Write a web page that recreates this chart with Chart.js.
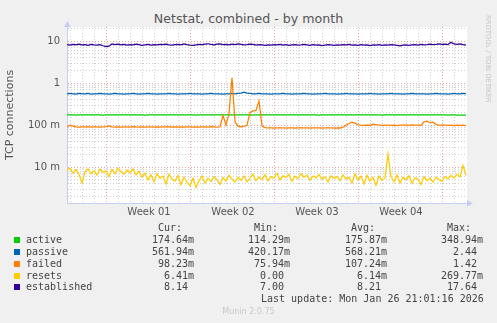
<!DOCTYPE html>
<html>
<head>
<meta charset="utf-8">
<script src="https://cdn.jsdelivr.net/npm/chart.js@4/dist/chart.umd.min.js"></script>
<style>
  html, body { margin:0; padding:0; }
  body { width:497px; height:323px; overflow:hidden; position:relative; background:#f0f0f0; font-family:'DejaVu Sans', sans-serif; }
  .abs { position:absolute; white-space:pre; }
  .mono { font-family:'DejaVu Sans Mono', monospace; font-size:10px; line-height:12px; color:#444; }
</style>
</head>
<body>
<div class="abs" style="left:0;top:11px;width:497px;text-align:center;font-size:12.6px;line-height:16px;color:#555;">Netstat, combined - by month</div>
<canvas id="c" width="497" height="225" style="position:absolute;left:0;top:0;"></canvas>
<div class="abs" style="left:484px;top:15px;writing-mode:vertical-rl;font-size:6.8px;line-height:8px;color:#c4c4c4;">RRDTOOL / TOBI OETIKER</div>
<div id="legend"></div>
<div class="abs" style="left:0;top:307px;width:497px;text-align:center;font-size:8px;line-height:10px;color:#c8c8c8;">Munin 2.0.75</div>
<script>
// ---------- data (one sample every 6 hours over the month) ----------
const STEP_DAYS = 0.25;
const weekLabels = ['Week 01', 'Week 02', 'Week 03', 'Week 04'];
const weekCenters = [6.833, 13.833, 20.833, 27.833];
const weekLines = [3.333, 10.333, 17.333, 24.333, 31.333];
const dayLines = [0.333,1.333,2.333,3.333,4.333,5.333,6.333,7.333,8.333,9.333,10.333,11.333,12.333,13.333,14.333,15.333,16.333,17.333,18.333,19.333,20.333,21.333,22.333,23.333,24.333,25.333,26.333,27.333,28.333,29.333,30.333,31.333,32.333];
const yDecadeLabels = { '10': '10', '1': '1', '0.1': '100 m', '0.01': '10 m' };

const active = [
  0.176,0.176,0.176,0.175,0.176,0.176,0.176,0.176,0.177,0.176,
  0.176,0.176,0.175,0.176,0.176,0.176,0.176,0.176,0.176,0.176,
  0.176,0.177,0.176,0.176,0.176,0.176,0.175,0.176,0.176,0.176,
  0.176,0.176,0.176,0.176,0.176,0.177,0.176,0.176,0.176,0.176,
  0.176,0.176,0.176,0.175,0.176,0.176,0.176,0.176,0.176,0.176,
  0.176,0.176,0.176,0.176,0.177,0.176,0.176,0.176,0.176,0.176,
  0.176,0.175,0.176,0.176,0.176,0.176,0.176,0.176,0.176,0.176,
  0.176,0.176,0.176,0.176,0.176,0.176,0.177,0.176,0.176,0.176,
  0.176,0.176,0.176,0.176,0.175,0.176,0.176,0.176,0.176,0.176,
  0.176,0.176,0.176,0.176,0.176,0.176,0.176,0.176,0.176,0.177,
  0.176,0.176,0.176,0.176,0.176,0.175,0.176,0.176,0.176,0.176,
  0.176,0.176,0.176,0.176,0.176,0.176,0.176,0.176,0.176,0.176,
  0.176,0.177,0.176,0.176,0.176,0.176,0.176,0.175,0.176,0.176,
  0.175,0.175,0.175,0.175
];
const passive = [
  0.56,0.57,0.56,0.55,0.57,0.56,0.56,0.57,0.55,0.56,
  0.56,0.57,0.56,0.56,0.55,0.56,0.57,0.56,0.56,0.55,
  0.56,0.56,0.57,0.56,0.55,0.56,0.56,0.57,0.56,0.56,
  0.55,0.56,0.56,0.56,0.57,0.56,0.56,0.55,0.56,0.56,
  0.56,0.57,0.56,0.56,0.56,0.55,0.56,0.56,0.57,0.56,
  0.56,0.56,0.55,0.56,0.56,0.57,0.56,0.57,0.58,0.61,
  0.58,0.57,0.56,0.56,0.57,0.56,0.56,0.56,0.55,0.56,
  0.56,0.56,0.57,0.56,0.56,0.55,0.56,0.56,0.56,0.57,
  0.56,0.56,0.55,0.56,0.56,0.56,0.57,0.56,0.56,0.56,
  0.55,0.56,0.56,0.57,0.56,0.56,0.56,0.55,0.56,0.56,
  0.56,0.57,0.56,0.56,0.55,0.56,0.56,0.56,0.57,0.56,
  0.56,0.56,0.55,0.56,0.56,0.57,0.56,0.56,0.56,0.56,
  0.55,0.56,0.56,0.57,0.56,0.56,0.56,0.55,0.56,0.57,
  0.56,0.56,0.57,0.56
];
const failed = [
  0.092,0.100,0.095,0.091,0.090,0.092,0.091,0.093,0.090,0.091,
  0.092,0.090,0.091,0.093,0.096,0.092,0.090,0.091,0.090,0.092,
  0.091,0.090,0.093,0.091,0.090,0.092,0.090,0.091,0.092,0.090,
  0.091,0.090,0.092,0.091,0.093,0.090,0.091,0.090,0.092,0.090,
  0.091,0.092,0.090,0.091,0.090,0.092,0.091,0.090,0.093,0.091,
  0.090,0.092,0.170,0.100,0.190,1.350,0.120,0.095,0.092,0.095,
  0.100,0.200,0.220,0.225,0.380,0.095,0.088,0.086,0.087,0.085,
  0.086,0.088,0.086,0.085,0.087,0.086,0.085,0.086,0.088,0.086,
  0.087,0.085,0.086,0.087,0.086,0.085,0.086,0.088,0.086,0.085,
  0.087,0.086,0.090,0.100,0.110,0.118,0.112,0.102,0.100,0.099,
  0.101,0.100,0.106,0.103,0.100,0.099,0.100,0.101,0.099,0.100,
  0.098,0.100,0.101,0.100,0.099,0.102,0.100,0.100,0.099,0.120,
  0.125,0.115,0.118,0.105,0.100,0.101,0.100,0.099,0.100,0.098,
  0.100,0.099,0.100,0.098
];
const resets = [
  0.0085,0.0095,0.0072,0.0088,0.0068,0.0042,0.0078,0.0092,0.0070,0.0083,
  0.0065,0.0090,0.0075,0.0082,0.0060,0.0088,0.0071,0.0095,0.0078,0.0069,
  0.0086,0.0074,0.0091,0.0066,0.0080,0.0058,0.0072,0.0050,0.0066,0.0045,
  0.0070,0.0055,0.0062,0.0040,0.0068,0.0052,0.0047,0.0064,0.0038,0.0058,
  0.0044,0.0036,0.0055,0.0033,0.0048,0.0062,0.0042,0.0055,0.0046,0.0060,
  0.0050,0.0039,0.0057,0.0047,0.0065,0.0052,0.0044,0.0058,0.0049,0.0062,
  0.0045,0.0055,0.0068,0.0048,0.0058,0.0052,0.0066,0.0047,0.0060,0.0055,
  0.0072,0.0050,0.0063,0.0057,0.0068,0.0046,0.0061,0.0054,0.0070,0.0058,
  0.0065,0.0049,0.0062,0.0056,0.0067,0.0052,0.0059,0.0045,0.0063,0.0055,
  0.0060,0.0048,0.0066,0.0053,0.0058,0.0042,0.0070,0.0050,0.0061,0.0040,
  0.0064,0.0047,0.0058,0.0037,0.0062,0.0049,0.0055,0.0205,0.0060,0.0045,
  0.0066,0.0042,0.0058,0.0050,0.0063,0.0041,0.0057,0.0052,0.0039,0.0060,
  0.0048,0.0055,0.0044,0.0058,0.0051,0.0046,0.0060,0.0053,0.0064,0.0056,
  0.0068,0.0059,0.0110,0.0064
];
const established = [
  8.3,8.1,8.4,8.2,8.5,8.2,8.3,8.0,8.4,8.2,
  8.1,8.3,7.8,7.4,7.6,8.6,8.3,8.5,8.2,8.4,
  8.1,8.3,8.2,8.5,8.3,8.0,8.2,8.4,8.1,8.3,
  8.2,8.4,8.3,8.5,8.2,8.1,8.3,8.4,8.2,8.6,
  8.3,8.1,8.0,8.2,8.4,8.3,8.5,8.7,8.4,8.2,
  8.5,8.6,8.3,8.4,8.2,8.5,8.3,8.6,8.4,8.2,
  8.3,8.5,8.4,8.1,8.3,8.2,8.0,8.2,8.1,8.3,
  8.2,8.4,8.1,8.3,8.0,8.2,8.3,8.1,8.2,8.4,
  8.2,8.0,8.3,8.1,8.2,7.9,8.1,8.3,8.2,8.0,
  8.2,8.1,8.3,8.2,8.4,8.1,8.2,8.0,8.3,8.1,
  8.2,7.9,8.2,8.1,8.3,8.0,8.2,8.1,8.3,8.2,
  8.0,7.8,8.1,8.2,8.0,8.2,8.3,8.1,8.4,8.2,
  8.3,8.5,8.3,8.4,8.6,8.4,8.5,8.3,9.4,8.6,
  8.4,8.6,8.3,8.1
];

// legend table
const legendNames = ['active', 'passive', 'failed', 'resets', 'established'];
const legendColors = ['#00cc00', '#0066b3', '#ff8000', '#ffcc00', '#330099'];
const legendCur = ['174.64m', '561.94m', ' 98.23m', '  6.41m', '  8.14 '];
const legendMin = ['114.29m', '420.17m', ' 75.94m', '  0.00 ', '  7.00 '];
const legendAvg = ['175.87m', '568.21m', '107.24m', '  6.14m', '  8.21 '];
const legendMax = ['348.94m', '  2.44 ', '  1.42 ', '269.77m', ' 17.64 '];
const legendHeaders = ['Cur:', 'Min:', 'Avg:', 'Max:'];
const lastUpdate = 'Last update: Mon Jan 26 21:01:16 2026';

// ---------- chart ----------
const toPoints = arr => arr.map((v, i) => ({ x: i * STEP_DAYS, y: v }));
const near = (v, list) => list.some(t => Math.abs(t - v) < 1e-3);

const AXIS = '#c6ccf4';
const GRID = '#cfcfcf';
const MGRID = '#e8a4a4';

const plotDeco = {
  id: 'plotDeco',
  beforeDraw(chart) {
    const { ctx, chartArea: a } = chart;
    ctx.save();
    ctx.fillStyle = '#ffffff';
    ctx.fillRect(a.left, a.top, a.right - a.left, a.bottom - a.top);
    ctx.restore();
  },
  afterDraw(chart) {
    const { ctx, chartArea: a } = chart;
    ctx.save();
    ctx.fillStyle = AXIS;
    ctx.beginPath();
    ctx.moveTo(a.left - 3, a.top);
    ctx.lineTo(a.left + 3.5, a.top);
    ctx.lineTo(a.left + 0.5, a.top - 6);
    ctx.closePath();
    ctx.fill();
    ctx.beginPath();
    ctx.moveTo(a.right, a.bottom - 3);
    ctx.lineTo(a.right, a.bottom + 3.5);
    ctx.lineTo(a.right + 6, a.bottom + 0.5);
    ctx.closePath();
    ctx.fill();
    ctx.restore();
  }
};

new Chart(document.getElementById('c'), {
  type: 'line',
  data: {
    datasets: [
      { label: 'established', data: toPoints(established), borderColor: legendColors[4] },
      { label: 'resets', data: toPoints(resets), borderColor: legendColors[3] },
      { label: 'failed', data: toPoints(failed), borderColor: legendColors[2] },
      { label: 'passive', data: toPoints(passive), borderColor: legendColors[1] },
      { label: 'active', data: toPoints(active), borderColor: legendColors[0] }
    ]
  },
  options: {
    responsive: false,
    animation: false,
    devicePixelRatio: 1,
    layout: { padding: { left: 0, top: 27, right: 30, bottom: 0 } },
    elements: { point: { radius: 0 }, line: { borderWidth: 1.25, tension: 0, fill: false } },
    plugins: { legend: { display: false }, tooltip: { enabled: false }, title: { display: false } },
    scales: {
      x: {
        type: 'linear',
        min: 0,
        max: 400 / 12,
        afterFit: s => { s.height = 22; },
        afterBuildTicks: s => {
          const vals = dayLines.concat(weekCenters).sort((a, b) => a - b);
          s.ticks = vals.map(v => ({ value: v }));
        },
        ticks: {
          autoSkip: false, maxRotation: 0, minRotation: 0, padding: 3,
          color: '#555', font: { family: 'DejaVu Sans', size: 10 },
          callback: v => { const k = weekCenters.findIndex(t => Math.abs(t - v) < 1e-3); return k >= 0 ? weekLabels[k] : ''; }
        },
        grid: {
          drawTicks: false,
          lineWidth: 1,
          color: c => { const v = c.tick ? c.tick.value : 0; if (near(v, weekCenters)) return 'rgba(0,0,0,0)'; return near(v, weekLines) ? MGRID : GRID; }
        },
        border: { display: true, color: AXIS, width: 1, dash: [1, 2] }
      },
      y: {
        type: 'logarithmic',
        min: 0.00141,
        max: 21.8,
        afterFit: s => { s.width = 67; },
        afterBuildTicks: s => {
          const out = [];
          for (let e = -3; e <= 1; e++) {
            for (let k = 1; k <= 9; k++) {
              const v = parseFloat((k * Math.pow(10, e)).toPrecision(3));
              if (v >= s.min && v <= s.max) out.push({ value: v });
            }
          }
          s.ticks = out;
        },
        ticks: {
          autoSkip: false, padding: 7,
          color: '#555', font: { family: 'DejaVu Sans', size: 10 },
          callback: v => { const key = String(parseFloat(Number(v).toPrecision(3))); return yDecadeLabels[key] || ''; }
        },
        grid: {
          drawTicks: false,
          lineWidth: 1,
          color: c => { const v = c.tick ? c.tick.value : 0; const key = String(parseFloat(Number(v).toPrecision(3))); return yDecadeLabels[key] ? MGRID : GRID; }
        },
        border: { display: true, color: AXIS, width: 1, dash: [1, 2] },
        title: { display: true, text: 'TCP connections', color: '#555', font: { family: 'DejaVu Sans', size: 11 }, padding: { top: 4, bottom: 0 } }
      }
    }
  },
  plugins: [plotDeco]
});

// ---------- legend (HTML text) ----------
const lg = document.getElementById('legend');
function addText(txt, left, centerY, cls) {
  const d = document.createElement('div');
  d.className = 'abs ' + (cls || 'mono');
  d.style.left = left + 'px';
  d.style.top = (centerY - 6) + 'px';
  d.textContent = txt;
  lg.appendChild(d);
}
const colX = [152, 248, 345, 441];
legendHeaders.forEach((h, i) => addText(h, colX[i] + 6, 228));
legendNames.forEach((name, r) => {
  const cy = 240 + r * 11.85;
  const sq = document.createElement('div');
  sq.style.cssText = 'position:absolute;left:14px;width:6px;height:6px;top:' + (cy - 3) + 'px;background:' + legendColors[r];
  lg.appendChild(sq);
  addText(name, 26, cy);
  addText(legendCur[r], colX[0], cy);
  addText(legendMin[r], colX[1], cy);
  addText(legendAvg[r], colX[2], cy);
  addText(legendMax[r], colX[3], cy);
});
addText(lastUpdate, 261, 299);
</script>
</body>
</html>
